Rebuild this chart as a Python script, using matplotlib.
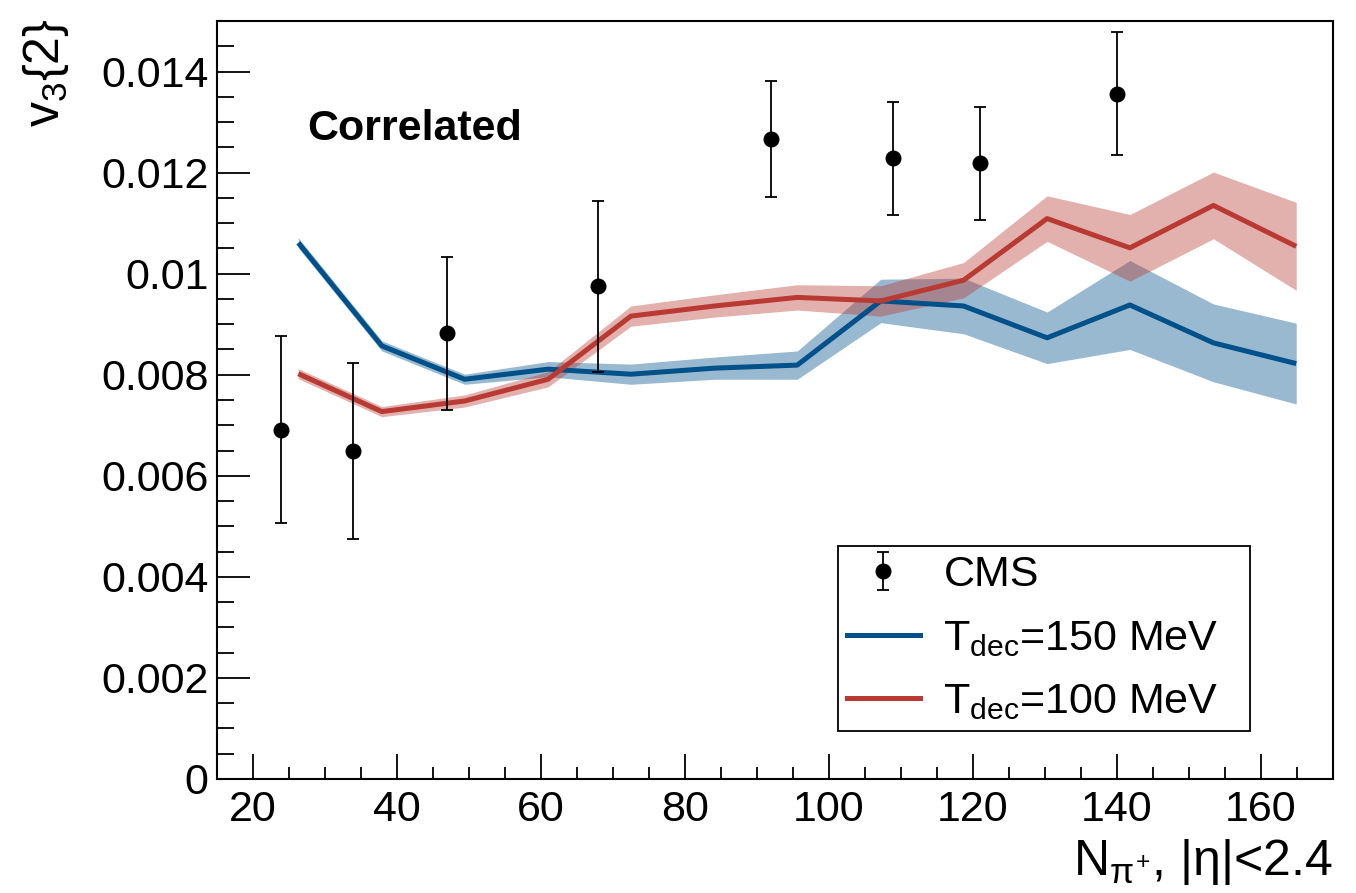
import matplotlib
matplotlib.use("Agg")
import matplotlib.pyplot as plt
from matplotlib.ticker import MultipleLocator, FuncFormatter
from matplotlib.lines import Line2D
from matplotlib.legend_handler import HandlerErrorbar

plt.rcParams['font.family'] = ['Liberation Sans', 'DejaVu Sans']
plt.rcParams['mathtext.fontset'] = 'custom'
plt.rcParams['mathtext.rm'] = 'Liberation Sans'
plt.rcParams['mathtext.it'] = 'Liberation Sans'
plt.rcParams['mathtext.bf'] = 'Liberation Sans:bold'

# CMS measurement
cms_n = [23.9, 33.9, 46.9, 67.9, 91.9, 108.9, 121.0, 140.0]
cms_v3 = [0.00691, 0.00649, 0.00882, 0.00975, 0.01267, 0.01228, 0.01218, 0.01356]
cms_err = [0.00185, 0.00175, 0.00151, 0.00169, 0.00115, 0.00112, 0.00111, 0.00122]

# Model multiplicity bins
model_n = [26.3, 37.9, 49.4, 61.0, 72.5, 84.1, 95.6, 107.2, 118.7, 130.3, 141.8, 153.4, 164.9]

# T_dec = 150 MeV
t150_v3 = [0.01061, 0.00857, 0.00791, 0.00811, 0.00801, 0.00813, 0.00819,
           0.00946, 0.00936, 0.00873, 0.00938, 0.00863, 0.00822]
t150_err = [0.00010, 0.00010, 0.00010, 0.00015, 0.00020, 0.00022, 0.00028,
            0.00043, 0.00055, 0.00051, 0.00088, 0.00077, 0.00080]

# T_dec = 100 MeV
t100_v3 = [0.00802, 0.00727, 0.00748, 0.00791, 0.00916, 0.00936, 0.00953,
           0.00946, 0.00987, 0.01109, 0.01051, 0.01135, 0.01054]
t100_err = [0.00010, 0.00010, 0.00012, 0.00015, 0.00020, 0.00022, 0.00025,
            0.00030, 0.00035, 0.00045, 0.00066, 0.00066, 0.00087]

blue = '#00508A'
red = '#B83A32'

fig = plt.figure(figsize=(13.56, 8.93), dpi=100)
ax = fig.add_axes([0.160, 0.1277, 0.823, 0.8488])

def band(x, y, e, color):
    lo = [a - b for a, b in zip(y, e)]
    hi = [a + b for a, b in zip(y, e)]
    ax.fill_between(x, lo, hi, color=color, alpha=0.4, linewidth=0)
    ax.plot(x, y, color=color, linewidth=3.6, solid_capstyle='butt')

band(model_n, t150_v3, t150_err, blue)
band(model_n, t100_v3, t100_err, red)

cms = ax.errorbar(cms_n, cms_v3, yerr=cms_err, fmt='o', color='black', markersize=10.5,
                  elinewidth=1.3, capsize=4, capthick=1.3, zorder=5)

ax.set_xlim(15, 170)
ax.set_ylim(0, 0.015)
ax.xaxis.set_major_locator(MultipleLocator(20))
ax.xaxis.set_minor_locator(MultipleLocator(5))
ax.yaxis.set_major_locator(MultipleLocator(0.002))
ax.yaxis.set_minor_locator(MultipleLocator(0.0005))
ax.yaxis.set_major_formatter(FuncFormatter(lambda v, p: '%g' % round(v, 6)))

ax.tick_params(which='both', direction='in', top=False, right=False, labelsize=31,
               width=1.3, color='black')
ax.tick_params(axis='x', which='major', length=18, pad=8)
ax.tick_params(axis='x', which='minor', length=9)
ax.tick_params(axis='y', which='major', length=24, pad=6)
ax.tick_params(axis='y', which='minor', length=12)
for s in ax.spines.values():
    s.set_linewidth(1.5)

ax.text(27.5, 0.01265, 'Correlated', fontsize=31, fontweight='bold', va='baseline', ha='left')

fig.text(0.983, 0.020, r'N$_{\pi^{+}}$, |η|<2.4', fontsize=36, ha='right', va='baseline')
fig.text(0.034, 0.979, r'v$_{3}${2}', fontsize=36, rotation=90, ha='center', va='top')

handles = [
    cms,
    Line2D([], [], color=blue, linewidth=3.6),
    Line2D([], [], color=red, linewidth=3.6),
]
labels = ['CMS', r'T$_{\mathrm{dec}}$=150 MeV', r'T$_{\mathrm{dec}}$=100 MeV']
leg = ax.legend(handles, labels, loc='lower left', bbox_to_anchor=(0.5565, 0.0633, 0.3691, 0.2497),
                mode='expand', fontsize=31, frameon=True, fancybox=False, framealpha=1,
                edgecolor='black', borderpad=0.2, labelspacing=0.55, handlelength=1.7,
                handletextpad=0.55, borderaxespad=0,
                handler_map={type(cms): HandlerErrorbar(xerr_size=0.3, yerr_size=0.45)})
leg.get_frame().set_linewidth(1.3)

fig.savefig('out.png', dpi=100)
